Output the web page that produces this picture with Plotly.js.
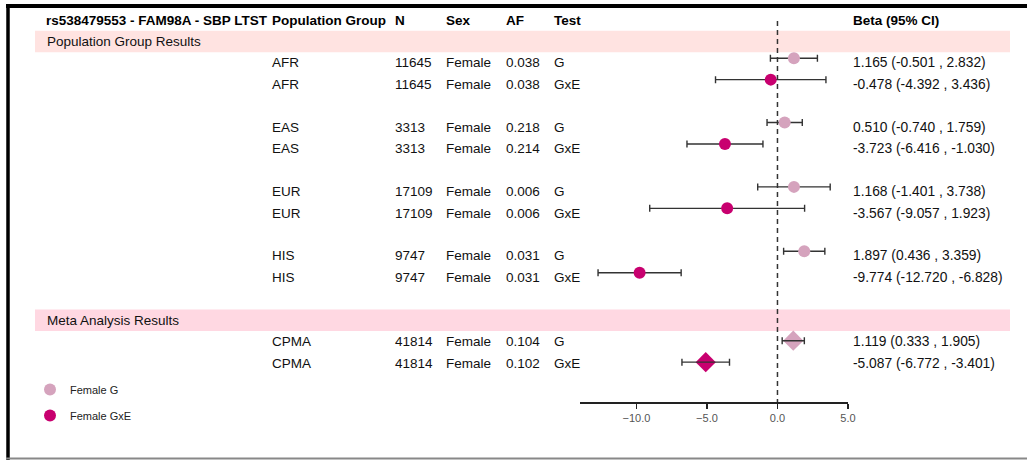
<!DOCTYPE html>
<html><head><meta charset="utf-8">
<script src="https://cdn.plot.ly/plotly-3.0.1.min.js"></script>
<style>html,body{margin:0;padding:0;background:#fff}#chart{width:1027px;height:460px}</style>
</head><body><div id="chart"></div>
<script>
// ---- data ----
const titleText = 'rs538479553 - FAM98A - SBP LTST';
const headers = ['Population Group', 'N', 'Sex', 'AF', 'Test', 'Beta (95% CI)'];
const sectionLabels = ['Population Group Results', 'Meta Analysis Results'];
const groups = ['AFR','AFR','EAS','EAS','EUR','EUR','HIS','HIS','CPMA','CPMA'];
const nVals = [11645,11645,3313,3313,17109,17109,9747,9747,41814,41814];
const sexVals = ['Female','Female','Female','Female','Female','Female','Female','Female','Female','Female'];
const afVals = ['0.038','0.038','0.218','0.214','0.006','0.006','0.031','0.031','0.104','0.102'];
const tests = ['G','GxE','G','GxE','G','GxE','G','GxE','G','GxE'];
const beta = [1.165,-0.478,0.510,-3.723,1.168,-3.567,1.897,-9.774,1.119,-5.087];
const ciLo = [-0.501,-4.392,-0.740,-6.416,-1.401,-9.057,0.436,-12.720,0.333,-6.772];
const ciHi = [2.832,3.436,1.759,-1.030,3.738,1.923,3.359,-6.828,1.905,-3.401];
const tickVals = [-10,-5,0,5];

// ---- layout helpers ----
const W = 1027, H = 460;
const rowStep = 21.45, row0Px = 20;
const dataRows = [2,3,5,6,8,9,11,12,15,16];
const sectionRows = [1,14];
const px = v => v / W;
const FONT = 'Liberation Sans, Arial, Helvetica, sans-serif';
const colorG = '#d5a3bd', colorGxE = '#c8006f';
const colX = [272, 395, 446, 506, 554, 853];

const traces = [];
function pick(test, meta) {
  return beta.map((_, i) => i).filter(i => tests[i] === test && (groups[i] === 'CPMA') === meta);
}
function errX(idx) {
  return {
    type: 'data', symmetric: false,
    array: idx.map(i => ciHi[i] - beta[i]),
    arrayminus: idx.map(i => beta[i] - ciLo[i]),
    color: '#333', thickness: 1.4, width: 3.5
  };
}
function addTrace(name, test, meta, showlegend) {
  const idx = pick(test, meta);
  const yOff = meta ? 0.05 : 0.22;
  traces.push({
    type: 'scatter', mode: 'markers', name: name, showlegend: showlegend,
    legendgroup: name,
    x: idx.map(i => beta[i]),
    y: idx.map(i => dataRows[i] - yOff),
    marker: {
      symbol: meta ? 'diamond' : 'circle',
      size: meta ? 15.5 : 12,
      color: test === 'G' ? colorG : colorGxE,
      line: {width: 0}
    },
    error_x: meta ? {visible: false} : errX(idx),
    hoverinfo: 'skip'
  });
  if (meta) {
    // error bars drawn on top of the diamonds
    traces.push({
      type: 'scatter', mode: 'markers', name: name + ' CI', showlegend: false,
      x: idx.map(i => beta[i]),
      y: idx.map(i => dataRows[i] - yOff),
      marker: {size: 1, opacity: 0, color: '#333'},
      error_x: errX(idx),
      hoverinfo: 'skip'
    });
  }
}
addTrace('Female G', 'G', false, true);
addTrace('Female GxE', 'GxE', false, true);
addTrace('Meta G', 'G', true, false);
addTrace('Meta GxE', 'GxE', true, false);

const annotations = [];
function ann(text, xPx, row, opts) {
  annotations.push(Object.assign({
    text: text, xref: 'paper', yref: 'y', x: px(xPx - 2), y: row,
    xanchor: 'left', yanchor: 'middle', showarrow: false,
    font: {family: FONT, size: 13.5, color: '#111'}
  }, opts || {}));
}
// header
ann('<b>' + titleText + '</b>', 46, 0, {font: {family: FONT, size: 13.5, color: '#000'}});
headers.forEach((h, k) => ann('<b>' + h + '</b>', colX[k], 0, {font: {family: FONT, size: 13.5, color: '#000'}}));
// sections
sectionLabels.forEach((s, k) => ann(s, 47, sectionRows[k]));
// rows
groups.forEach((g, i) => {
  const r = dataRows[i];
  ann(g, colX[0], r);
  ann(String(nVals[i]), colX[1], r);
  ann(sexVals[i], colX[2], r);
  ann(afVals[i], colX[3], r);
  ann(tests[i], colX[4], r);
  ann(beta[i].toFixed(3) + ' (' + ciLo[i].toFixed(3) + ' , ' + ciHi[i].toFixed(3) + ')', colX[5], r,
      {font: {family: FONT, size: 13.8, color: '#111'}});
});

const shapes = [
  {type: 'rect', xref: 'paper', yref: 'y', x0: px(35), x1: px(1010), y0: sectionRows[0] - 0.5, y1: sectionRows[0] + 0.5,
   fillcolor: '#ffe3e1', line: {width: 0}, layer: 'below'},
  {type: 'rect', xref: 'paper', yref: 'y', x0: px(35), x1: px(1010), y0: sectionRows[1] - 0.5, y1: sectionRows[1] + 0.5,
   fillcolor: '#ffd8e2', line: {width: 0}, layer: 'below'},
  {type: 'line', xref: 'x', yref: 'paper', x0: 0, x1: 0, y0: 1 - 21 / H, y1: 1 - 402 / H,
   line: {color: '#333', width: 1.5, dash: '5px,4px'}},
  {type: 'line', xref: 'paper', yref: 'paper', x0: px(6), x1: 1, y0: 1 - 6 / H, y1: 1 - 6 / H, line: {color: '#000', width: 4}},
  {type: 'line', xref: 'paper', yref: 'paper', x0: px(8), x1: px(8), y0: 1 - 4 / H, y1: 0, line: {color: '#000', width: 3.5}},
  {type: 'line', xref: 'paper', yref: 'paper', x0: px(6), x1: 1, y0: 1 - 458.5 / H, y1: 1 - 458.5 / H, line: {color: '#888', width: 2}}
];

const layout = {
  width: W, height: H,
  margin: {l: 0, r: 0, t: 0, b: 0},
  paper_bgcolor: '#fff', plot_bgcolor: 'rgba(0,0,0,0)',
  font: {family: FONT},
  showlegend: true,
  legend: {x: px(30), y: 1 - 375 / H, xanchor: 'left', yanchor: 'top',
           font: {family: FONT, size: 11, color: '#222'}, tracegroupgap: 7,
           bgcolor: 'rgba(0,0,0,0)'},
  xaxis: {
    domain: [px(580), px(848)], range: [-14, 5], anchor: 'free', position: 1 - 402 / H,
    showgrid: false, zeroline: false, showline: true, linecolor: '#222', linewidth: 1.5,
    ticks: 'outside', ticklen: 5, tickwidth: 1.5, tickcolor: '#222',
    tickvals: tickVals, tickformat: '.1f',
    tickfont: {family: FONT, size: 11, color: '#555'}, fixedrange: true
  },
  yaxis: {
    domain: [0, 1], range: [(H - row0Px) / rowStep, -row0Px / rowStep],
    visible: false, showgrid: false, zeroline: false, fixedrange: true
  },
  annotations: annotations,
  shapes: shapes
};

Plotly.newPlot('chart', traces, layout, {displayModeBar: false, staticPlot: true});
</script>
</body></html>
